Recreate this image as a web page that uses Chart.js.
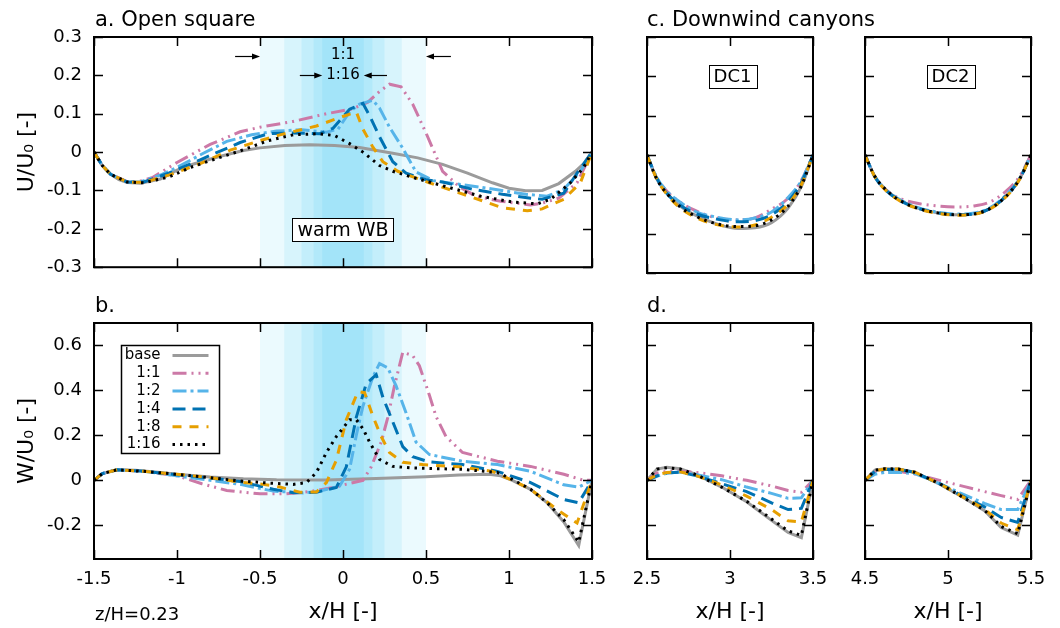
<!DOCTYPE html>
<html lang="en">
<head>
<meta charset="UTF-8">
<title>Open square and downwind canyons</title>
<script src="https://cdn.jsdelivr.net/npm/chart.js"></script>
<style>
  body {
    margin: 0;
    width: 1060px;
    height: 628px;
    position: relative;
    overflow: hidden;
    background: #fff;
    font-family: "DejaVu Sans", sans-serif;
  }
  canvas { position: absolute; }
  .lbl {
    position: absolute;
    line-height: 1;
    white-space: nowrap;
    color: #000;
  }
</style>
</head>
<body>
<canvas id="pa" width="620" height="290" style="left:0;top:0"></canvas>
<canvas id="pc1" width="240" height="290" style="left:600px;top:0"></canvas>
<canvas id="pc2" width="240" height="290" style="left:820px;top:0"></canvas>
<canvas id="pb" width="620" height="338" style="left:0;top:290px"></canvas>
<canvas id="pd1" width="240" height="338" style="left:600px;top:290px"></canvas>
<canvas id="pd2" width="240" height="338" style="left:820px;top:290px"></canvas>

<div class="lbl" style="left:95px;top:9px;font-size:21px">a. Open square</div>
<div class="lbl" style="left:647px;top:9px;font-size:21px">c. Downwind canyons</div>
<div class="lbl" style="left:95px;top:295px;font-size:21px">b.</div>
<div class="lbl" style="left:647px;top:295px;font-size:21px">d.</div>
<div class="lbl" style="left:95px;top:605px;font-size:18px">z/H=0.23</div>

<script>
// series order: base, 1:1, 1:2, 1:4, 1:8, 1:16
const seriesLabels = ['base', '1:1', '1:2', '1:4', '1:8', '1:16'];
const seriesColors = ['#9b9b9b', '#cc79a7', '#56b4e9', '#0072b2', '#e69f00', '#000000'];
const seriesDash = [[], [14, 5, 2, 5, 2, 5], [14, 4, 3, 4], [13, 7], [9, 8], [2.5, 5]];

// warm building widths (half width in x/H) for 1:1 ... 1:16
const bandHalf = [0.5, 0.354, 0.25, 0.177, 0.125];
const bandColors = ['#ebfafe', '#d7f4fc', '#c3eefb', '#b2e9fa', '#a3e4f9'];

// ticks
const xTicksOpen = [-1.5, -1, -0.5, 0, 0.5, 1, 1.5];
const xTicksDc1 = [2.5, 3, 3.5];
const xTicksDc2 = [4.5, 5, 5.5];
const uTicks = [-0.3, -0.2, -0.1, 0, 0.1, 0.2, 0.3];
const wTicks = [-0.2, 0, 0.2, 0.4, 0.6];

// a. open square, U/U0  [x/H, value]
const uOpenBase = [[-1.5,0],[-1.45,-0.035],[-1.4,-0.058],[-1.35,-0.072],[-1.3,-0.079],[-1.22,-0.081],[-1.1,-0.07],[-1.0,-0.047],[-0.9,-0.031],[-0.75,-0.012],[-0.6,0.004],[-0.5,0.011],[-0.35,0.017],[-0.2,0.019],[-0.05,0.017],[0.1,0.012],[0.3,-0.003],[0.45,-0.015],[0.6,-0.032],[0.75,-0.055],[0.9,-0.08],[1.0,-0.094],[1.1,-0.101],[1.2,-0.1],[1.3,-0.082],[1.4,-0.05],[1.45,-0.03],[1.5,0]];
const uOpen11 = [[-1.5,0],[-1.45,-0.035],[-1.4,-0.058],[-1.3,-0.077],[-1.24,-0.078],[-1.15,-0.067],[-1.0,-0.027],[-0.8,0.02],[-0.62,0.053],[-0.5,0.065],[-0.3,0.08],[-0.1,0.1],[0.05,0.112],[0.15,0.13],[0.22,0.158],[0.28,0.177],[0.35,0.17],[0.42,0.125],[0.5,0.05],[0.6,-0.05],[0.7,-0.09],[0.8,-0.115],[0.95,-0.128],[1.13,-0.138],[1.2,-0.133],[1.3,-0.12],[1.41,-0.08],[1.5,0]];
const uOpen12 = [[-1.5,0],[-1.45,-0.035],[-1.4,-0.058],[-1.3,-0.078],[-1.22,-0.078],[-1.1,-0.06],[-1.0,-0.04],[-0.85,-0.005],[-0.7,0.028],[-0.55,0.045],[-0.4,0.055],[-0.25,0.058],[-0.1,0.052],[-0.03,0.06],[0.04,0.105],[0.1,0.125],[0.18,0.135],[0.22,0.115],[0.28,0.065],[0.36,0.01],[0.44,-0.052],[0.55,-0.075],[0.72,-0.085],[0.93,-0.098],[1.1,-0.11],[1.23,-0.115],[1.33,-0.097],[1.43,-0.05],[1.5,0]];
const uOpen14 = [[-1.5,0],[-1.45,-0.035],[-1.4,-0.058],[-1.3,-0.078],[-1.2,-0.078],[-1.05,-0.055],[-0.86,-0.02],[-0.62,0.025],[-0.45,0.048],[-0.3,0.05],[-0.14,0.048],[-0.06,0.062],[0.04,0.112],[0.12,0.127],[0.16,0.095],[0.22,0.04],[0.3,-0.025],[0.38,-0.055],[0.5,-0.072],[0.6,-0.078],[0.78,-0.097],[0.96,-0.11],[1.13,-0.12],[1.2,-0.123],[1.33,-0.107],[1.41,-0.055],[1.5,0]];
const uOpen18 = [[-1.5,0],[-1.45,-0.035],[-1.4,-0.058],[-1.3,-0.078],[-1.2,-0.079],[-1.05,-0.06],[-0.86,-0.03],[-0.68,0.005],[-0.5,0.03],[-0.38,0.045],[-0.16,0.068],[-0.02,0.09],[0.08,0.105],[0.12,0.06],[0.18,0.013],[0.24,-0.025],[0.33,-0.05],[0.52,-0.08],[0.76,-0.115],[0.96,-0.145],[1.11,-0.153],[1.2,-0.148],[1.33,-0.123],[1.43,-0.08],[1.5,0]];
const uOpen116 = [[-1.5,0],[-1.45,-0.035],[-1.4,-0.058],[-1.3,-0.078],[-1.2,-0.08],[-1.05,-0.065],[-0.92,-0.04],[-0.75,-0.015],[-0.62,0.003],[-0.45,0.03],[-0.3,0.045],[-0.15,0.048],[-0.05,0.043],[0.04,0.022],[0.12,0.0],[0.22,-0.035],[0.3,-0.05],[0.42,-0.066],[0.62,-0.09],[0.83,-0.115],[1.02,-0.13],[1.17,-0.135],[1.25,-0.123],[1.37,-0.08],[1.45,-0.04],[1.5,0]];

// b. open square, W/U0
const wOpenBase = [[-1.5,0],[-1.45,0.03],[-1.36,0.047],[-1.25,0.045],[-1.1,0.035],[-1.0,0.027],[-0.8,0.015],[-0.6,0.007],[-0.4,0.003],[-0.1,0.002],[0.2,0.008],[0.5,0.016],[0.7,0.024],[0.88,0.027],[0.95,0.02],[1.02,0.0],[1.13,-0.04],[1.23,-0.1],[1.33,-0.185],[1.42,-0.29],[1.5,0]];
const wOpen11 = [[-1.5,0],[-1.45,0.03],[-1.36,0.047],[-1.2,0.04],[-1.0,0.02],[-0.85,-0.015],[-0.7,-0.045],[-0.5,-0.06],[-0.35,-0.06],[-0.2,-0.05],[-0.05,-0.03],[0.05,-0.012],[0.12,0.0],[0.17,0.06],[0.23,0.17],[0.27,0.28],[0.31,0.42],[0.36,0.57],[0.42,0.555],[0.46,0.51],[0.52,0.38],[0.56,0.285],[0.62,0.195],[0.72,0.124],[0.93,0.085],[1.13,0.062],[1.33,0.027],[1.45,0.0],[1.5,0]];
const wOpen12 = [[-1.5,0],[-1.45,0.03],[-1.36,0.047],[-1.2,0.04],[-1.0,0.02],[-0.8,0.0],[-0.62,-0.018],[-0.42,-0.048],[-0.24,-0.056],[-0.14,-0.048],[-0.02,-0.025],[0.04,0.05],[0.08,0.2],[0.12,0.33],[0.18,0.46],[0.22,0.52],[0.27,0.5],[0.32,0.42],[0.38,0.3],[0.44,0.17],[0.52,0.115],[0.72,0.085],[0.93,0.07],[1.13,0.04],[1.33,-0.02],[1.42,-0.03],[1.5,0]];
const wOpen14 = [[-1.5,0],[-1.45,0.03],[-1.36,0.047],[-1.2,0.04],[-1.0,0.025],[-0.8,0.01],[-0.62,-0.005],[-0.42,-0.04],[-0.3,-0.055],[-0.16,-0.053],[-0.04,-0.032],[0.02,0.06],[0.08,0.28],[0.14,0.43],[0.2,0.47],[0.24,0.37],[0.3,0.26],[0.36,0.15],[0.42,0.105],[0.52,0.082],[0.72,0.07],[0.93,0.04],[1.13,-0.01],[1.33,-0.085],[1.42,-0.1],[1.5,0]];
const wOpen18 = [[-1.5,0],[-1.45,0.03],[-1.36,0.047],[-1.2,0.04],[-1.0,0.027],[-0.8,0.012],[-0.62,-0.008],[-0.48,-0.018],[-0.38,-0.03],[-0.26,-0.053],[-0.16,-0.052],[-0.1,-0.01],[-0.04,0.09],[0.02,0.27],[0.09,0.395],[0.13,0.39],[0.18,0.285],[0.23,0.195],[0.28,0.124],[0.36,0.08],[0.48,0.07],[0.7,0.06],[0.9,0.04],[1.02,0.0],[1.13,-0.04],[1.29,-0.13],[1.41,-0.19],[1.5,0]];
const wOpen116 = [[-1.5,0],[-1.45,0.03],[-1.36,0.047],[-1.2,0.04],[-1.0,0.027],[-0.8,0.012],[-0.62,-0.003],[-0.45,-0.012],[-0.3,-0.018],[-0.22,-0.01],[-0.16,0.035],[-0.1,0.124],[-0.04,0.195],[0.04,0.27],[0.08,0.27],[0.12,0.23],[0.16,0.17],[0.22,0.093],[0.3,0.062],[0.42,0.055],[0.72,0.049],[0.93,0.035],[1.03,0.0],[1.13,-0.04],[1.23,-0.1],[1.33,-0.175],[1.42,-0.275],[1.5,0]];

// c. downwind canyons, U/U0
const uDc1X = [2.5, 2.56, 2.62, 2.7, 2.8, 2.92, 3.05, 3.15, 3.25, 3.35, 3.43, 3.5];
const uDc1Base = [0, -0.062, -0.097, -0.13, -0.155, -0.175, -0.187, -0.185, -0.172, -0.135, -0.08, 0];
const uDc111 = [0, -0.058, -0.092, -0.12, -0.143, -0.16, -0.165, -0.16, -0.138, -0.11, -0.065, 0];
const uDc112 = [0, -0.058, -0.092, -0.12, -0.145, -0.158, -0.165, -0.16, -0.145, -0.108, -0.065, 0];
const uDc114 = [0, -0.06, -0.098, -0.128, -0.15, -0.163, -0.17, -0.167, -0.152, -0.118, -0.07, 0];
const uDc118 = [0, -0.062, -0.1, -0.135, -0.16, -0.177, -0.183, -0.178, -0.158, -0.125, -0.075, 0];
const uDc1116 = [0, -0.062, -0.098, -0.132, -0.157, -0.175, -0.182, -0.18, -0.165, -0.13, -0.078, 0];

const uDc2X = [4.5, 4.56, 4.63, 4.72, 4.83, 4.95, 5.05, 5.15, 5.25, 5.35, 5.43, 5.5];
const uDc2Base = [0, -0.055, -0.09, -0.117, -0.137, -0.148, -0.152, -0.15, -0.137, -0.105, -0.062, 0];
const uDc211 = [0, -0.055, -0.09, -0.112, -0.124, -0.13, -0.132, -0.13, -0.12, -0.092, -0.055, 0];
const uDc212 = [0, -0.055, -0.09, -0.116, -0.135, -0.146, -0.15, -0.148, -0.135, -0.102, -0.06, 0];
const uDc214 = [0, -0.056, -0.091, -0.118, -0.137, -0.148, -0.152, -0.15, -0.137, -0.104, -0.062, 0];
const uDc218 = [0, -0.056, -0.092, -0.119, -0.138, -0.149, -0.153, -0.151, -0.138, -0.106, -0.063, 0];
const uDc2116 = [0, -0.055, -0.09, -0.118, -0.137, -0.148, -0.152, -0.15, -0.137, -0.105, -0.062, 0];

// d. downwind canyons, W/U0
const wDc1X = [2.5, 2.56, 2.62, 2.7, 2.8, 2.95, 3.1, 3.25, 3.35, 3.43, 3.5];
const wDc1Base = [0, 0.05, 0.058, 0.052, 0.025, -0.03, -0.095, -0.178, -0.232, -0.255, 0];
const wDc111 = [0, 0.033, 0.04, 0.04, 0.035, 0.02, 0.0, -0.025, -0.045, -0.053, 0];
const wDc112 = [0, 0.018, 0.032, 0.037, 0.025, 0.003, -0.03, -0.058, -0.08, -0.078, 0];
const wDc114 = [0, 0.02, 0.033, 0.036, 0.02, -0.015, -0.05, -0.1, -0.13, -0.125, 0];
const wDc118 = [0, 0.025, 0.035, 0.038, 0.02, -0.02, -0.07, -0.13, -0.18, -0.185, 0];
const wDc1116 = [0, 0.05, 0.056, 0.05, 0.024, -0.03, -0.093, -0.172, -0.225, -0.245, 0];

const wDc2X = [4.5, 4.56, 4.62, 4.7, 4.8, 4.95, 5.1, 5.22, 5.32, 5.42, 5.5];
const wDc2Base = [0, 0.045, 0.052, 0.05, 0.036, -0.017, -0.08, -0.135, -0.21, -0.244, 0];
const wDc211 = [0, 0.035, 0.043, 0.04, 0.028, 0.0, -0.028, -0.05, -0.068, -0.085, 0];
const wDc212 = [0, 0.027, 0.035, 0.036, 0.03, -0.015, -0.065, -0.103, -0.13, -0.13, 0];
const wDc214 = [0, 0.04, 0.048, 0.048, 0.035, -0.015, -0.075, -0.118, -0.165, -0.187, 0];
const wDc218 = [0, 0.042, 0.05, 0.05, 0.036, -0.015, -0.078, -0.128, -0.19, -0.22, 0];
const wDc2116 = [0, 0.045, 0.052, 0.05, 0.036, -0.015, -0.08, -0.133, -0.205, -0.238, 0];

// annotations in data units: [from x, to x, y]
const ratioArrows = [[-0.65, -0.5, 0.25], [0.65, 0.5, 0.25], [-0.26, -0.125, 0.2], [0.265, 0.125, 0.2]];
const ratioTexts = [['1:1', 0, 0.252], ['1:16', 0, 0.2]];

const FONT = '"DejaVu Sans"';

function zip(xs, ys) {
  return xs.map((x, i) => [x, ys[i]]);
}

function arrow(ctx, x0, y0, x1, y1) {
  const dir = Math.sign(x1 - x0);
  ctx.beginPath();
  ctx.moveTo(x0, y0);
  ctx.lineTo(x1 - dir * 6, y1);
  ctx.stroke();
  ctx.beginPath();
  ctx.moveTo(x1, y1);
  ctx.lineTo(x1 - dir * 8, y1 - 3);
  ctx.lineTo(x1 - dir * 8, y1 + 3);
  ctx.closePath();
  ctx.fill();
}

function boxText(ctx, text, cx, cy, size) {
  ctx.font = size + 'px ' + FONT;
  const w = ctx.measureText(text).width;
  const bw = w + 10, bh = 23;
  ctx.fillStyle = '#fff';
  ctx.fillRect(cx - bw / 2, cy - bh / 2, bw, bh);
  ctx.strokeStyle = '#000';
  ctx.lineWidth = 1;
  ctx.strokeRect(Math.round(cx - bw / 2) + 0.5, Math.round(cy - bh / 2) + 0.5, Math.round(bw), bh);
  ctx.fillStyle = '#000';
  ctx.textAlign = 'center';
  ctx.textBaseline = 'middle';
  ctx.fillText(text, cx, cy + 1);
}

function makePanel(id, cfg) {
  const datasets = cfg.series.map((pts, i) => ({
    label: seriesLabels[i],
    data: pts.map(p => ({ x: p[0], y: p[1] })),
    borderColor: seriesColors[i],
    borderDash: seriesDash[i],
    borderWidth: 3,
    borderCapStyle: 'butt',
    order: 5 - i,
    tension: 0,
    cubicInterpolationMode: cfg.smooth ? 'monotone' : 'default'
  }));

  const panelPlugin = {
    id: 'panel_' + id,
    beforeDatasetsDraw(chart) {
      if (!cfg.bands) return;
      const { ctx, chartArea: a, scales: { x } } = chart;
      ctx.save();
      bandHalf.forEach((h, i) => {
        const l = x.getPixelForValue(-h), r = x.getPixelForValue(h);
        ctx.fillStyle = bandColors[i];
        ctx.fillRect(l, a.top, r - l, a.bottom - a.top);
      });
      ctx.restore();
    },
    afterDatasetsDraw(chart) {
      const { ctx, chartArea: a, scales: { x, y } } = chart;
      ctx.save();
      ctx.strokeStyle = '#000';
      ctx.lineWidth = 1.5;
      const tl = 9;
      ctx.beginPath();
      x.ticks.forEach(t => {
        const px = Math.round(x.getPixelForValue(t.value)) + 0.5;
        ctx.moveTo(px, a.bottom); ctx.lineTo(px, a.bottom - tl);
        ctx.moveTo(px, a.top); ctx.lineTo(px, a.top + tl);
      });
      y.ticks.forEach(t => {
        const py = Math.round(y.getPixelForValue(t.value)) + 0.5;
        ctx.moveTo(a.left, py); ctx.lineTo(a.left + tl, py);
        ctx.moveTo(a.right, py); ctx.lineTo(a.right - tl, py);
      });
      ctx.stroke();
      ctx.lineWidth = 2;
      ctx.strokeRect(a.left, a.top, a.right - a.left, a.bottom - a.top);
      if (cfg.draw) cfg.draw(chart, ctx);
      ctx.restore();
    }
  };

  return new Chart(document.getElementById(id), {
    type: 'line',
    data: { datasets },
    options: {
      responsive: false,
      animation: false,
      devicePixelRatio: 1,
      layout: { padding: { top: cfg.padTop, right: cfg.padRight, left: 0, bottom: 0 } },
      elements: { point: { radius: 0 } },
      plugins: { legend: { display: false }, tooltip: { enabled: false } },
      scales: {
        x: {
          type: 'linear',
          min: cfg.xMin,
          max: cfg.xMax,
          afterBuildTicks: s => { s.ticks = cfg.xTicks.map(v => ({ value: v })); },
          afterFit: s => { s.height = cfg.xHeight; },
          grid: { display: false, drawTicks: false },
          border: { display: false },
          ticks: {
            display: cfg.xLabels,
            autoSkip: false,
            maxRotation: 0,
            padding: 10,
            color: '#000',
            font: { family: 'DejaVu Sans', size: 18 },
            callback: v => String(v)
          },
          title: {
            display: cfg.xLabels,
            text: 'x/H [-]',
            color: '#000',
            font: { family: 'DejaVu Sans', size: 22 },
            padding: { top: 0, bottom: 3 }
          }
        },
        y: {
          type: 'linear',
          min: cfg.yMin,
          max: cfg.yMax,
          afterBuildTicks: s => { s.ticks = cfg.yTicks.map(v => ({ value: v })); },
          afterFit: s => { s.width = cfg.yWidth; },
          grid: { display: false, drawTicks: false },
          border: { display: false },
          ticks: {
            display: !!cfg.yTitle,
            autoSkip: false,
            padding: 12,
            color: '#000',
            font: { family: 'DejaVu Sans', size: 18 },
            callback: v => String(v)
          },
          title: {
            display: !!cfg.yTitle,
            text: cfg.yTitle || '',
            color: '#000',
            font: { family: 'DejaVu Sans', size: 22 },
            padding: { top: 14, bottom: 0 }
          }
        }
      }
    },
    plugins: [panelPlugin]
  });
}

// a. open square U
makePanel('pa', {
  series: [uOpenBase, uOpen11, uOpen12, uOpen14, uOpen18, uOpen116],
  xMin: -1.5, xMax: 1.5, xTicks: xTicksOpen,
  yMin: -0.3, yMax: 0.3, yTicks: uTicks,
  padTop: 37, padRight: 28, xHeight: 17, yWidth: 94,
  xLabels: false, yTitle: 'U/U₀ [-]', bands: true,
  draw(chart, ctx) {
    const { x, y } = chart.scales;
    ctx.fillStyle = '#000';
    ctx.strokeStyle = '#000';
    ctx.lineWidth = 1.2;
    ratioArrows.forEach(([from, to, yv]) => {
      arrow(ctx, x.getPixelForValue(from), Math.round(y.getPixelForValue(yv)) + 0.5,
        x.getPixelForValue(to), Math.round(y.getPixelForValue(yv)) + 0.5);
    });
    ctx.font = '15px ' + FONT;
    ctx.textAlign = 'center';
    ctx.textBaseline = 'middle';
    ratioTexts.forEach(([t, xv, yv]) => ctx.fillText(t, x.getPixelForValue(xv), y.getPixelForValue(yv)));
    boxText(ctx, 'warm WB', x.getPixelForValue(0), y.getPixelForValue(-0.203), 19);
  }
});

// c. downwind canyons U
makePanel('pc1', {
  series: [uDc1Base, uDc111, uDc112, uDc114, uDc118, uDc1116].map(v => zip(uDc1X, v)),
  xMin: 2.5, xMax: 3.5, xTicks: xTicksDc1,
  yMin: -0.3, yMax: 0.3, yTicks: uTicks,
  padTop: 37, padRight: 27, xHeight: 17, yWidth: 47,
  xLabels: false, smooth: true,
  draw(chart, ctx) {
    const { x, y } = chart.scales;
    boxText(ctx, 'DC1', x.getPixelForValue(3.015), y.getPixelForValue(0.2), 18);
  }
});
makePanel('pc2', {
  series: [uDc2Base, uDc211, uDc212, uDc214, uDc218, uDc2116].map(v => zip(uDc2X, v)),
  xMin: 4.5, xMax: 5.5, xTicks: xTicksDc2,
  yMin: -0.3, yMax: 0.3, yTicks: uTicks,
  padTop: 37, padRight: 29, xHeight: 17, yWidth: 45,
  xLabels: false, smooth: true,
  draw(chart, ctx) {
    const { x, y } = chart.scales;
    boxText(ctx, 'DC2', x.getPixelForValue(5.015), y.getPixelForValue(0.2), 18);
  }
});

// b. open square W
makePanel('pb', {
  series: [wOpenBase, wOpen11, wOpen12, wOpen14, wOpen18, wOpen116],
  xMin: -1.5, xMax: 1.5, xTicks: xTicksOpen,
  yMin: -0.35, yMax: 0.7, yTicks: wTicks,
  padTop: 33, padRight: 28, xHeight: 69, yWidth: 94,
  xLabels: true, yTitle: 'W/U₀ [-]', bands: true,
  draw(chart, ctx) {
    const a = chart.chartArea;
    const bx = Math.round(a.left + 27) + 0.5, by = Math.round(a.top + 22) + 0.5;
    ctx.fillStyle = '#fff';
    ctx.fillRect(bx, by, 98, 108);
    ctx.strokeStyle = '#000';
    ctx.lineWidth = 1.5;
    ctx.strokeRect(bx, by, 98, 108);
    ctx.font = '15px ' + FONT;
    ctx.textAlign = 'right';
    ctx.textBaseline = 'middle';
    seriesLabels.forEach((lab, i) => {
      const yy = by + 10 + i * 17.8;
      ctx.fillStyle = '#000';
      ctx.fillText(lab, bx + 39, yy);
      ctx.save();
      ctx.setLineDash(seriesDash[i]);
      ctx.strokeStyle = seriesColors[i];
      ctx.lineWidth = 3;
      ctx.beginPath();
      ctx.moveTo(bx + 51, yy);
      ctx.lineTo(bx + 87, yy);
      ctx.stroke();
      ctx.restore();
    });
  }
});

// d. downwind canyons W
makePanel('pd1', {
  series: [wDc1Base, wDc111, wDc112, wDc114, wDc118, wDc1116].map(v => zip(wDc1X, v)),
  xMin: 2.5, xMax: 3.5, xTicks: xTicksDc1,
  yMin: -0.35, yMax: 0.7, yTicks: wTicks,
  padTop: 33, padRight: 27, xHeight: 69, yWidth: 47,
  xLabels: true
});
makePanel('pd2', {
  series: [wDc2Base, wDc211, wDc212, wDc214, wDc218, wDc2116].map(v => zip(wDc2X, v)),
  xMin: 4.5, xMax: 5.5, xTicks: xTicksDc2,
  yMin: -0.35, yMax: 0.7, yTicks: wTicks,
  padTop: 33, padRight: 29, xHeight: 69, yWidth: 45,
  xLabels: true
});
</script>
</body>
</html>
